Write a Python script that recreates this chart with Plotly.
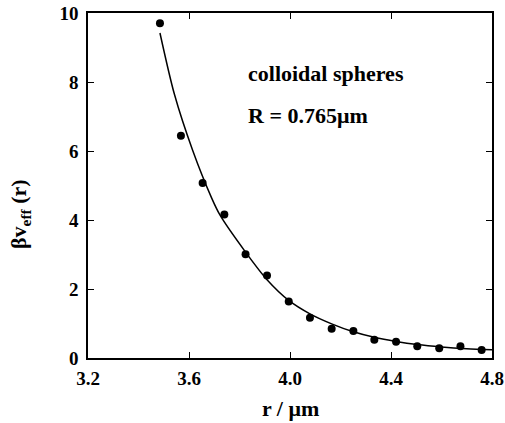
import plotly.graph_objects as go

# measured points
r_pts = [3.485, 3.568, 3.654, 3.740, 3.824, 3.909, 3.995, 4.079, 4.165, 4.251,
         4.334, 4.420, 4.504, 4.591, 4.675, 4.759]
v_pts = [9.70, 6.44, 5.07, 4.16, 3.01, 2.39, 1.64, 1.17, 0.85, 0.78,
         0.53, 0.47, 0.34, 0.28, 0.34, 0.23]

# fitted curve
r_fit = [3.485, 3.542, 3.614, 3.689, 3.723, 3.824, 3.909, 3.995, 4.079, 4.165,
         4.251, 4.334, 4.420, 4.504, 4.600, 4.700, 4.800]
v_fit = [9.42, 7.65, 6.03, 4.65, 4.14, 3.07, 2.27, 1.67, 1.28, 0.99,
         0.76, 0.60, 0.48, 0.39, 0.32, 0.27, 0.24]

x_ticks = [3.2, 3.6, 4.0, 4.4, 4.8]
x_ticklabels = ["3.2", "3.6", "4.0", "4.4", "4.8"]
y_ticks = [0, 2, 4, 6, 8, 10]

FONT = "Liberation Serif"

W, H = 505, 423
ML, MR, MT, MB = 88, 13, 13, 65
pw = W - ML - MR
ph = H - MT - MB

fig = go.Figure()
fig.add_trace(go.Scatter(x=r_fit, y=v_fit, mode="lines",
                         line=dict(color="black", width=1.5, shape="spline", smoothing=0.8),
                         hoverinfo="skip"))
fig.add_trace(go.Scatter(x=r_pts, y=v_pts, mode="markers",
                         marker=dict(color="black", size=8)))

axis_common = dict(showline=True, linecolor="black", linewidth=1.5, mirror="ticks",
                   ticks="inside", ticklen=6, tickwidth=1, tickcolor="black",
                   showgrid=False, zeroline=False, automargin=False,
                   tickfont=dict(family=FONT, size=19, color="black", weight="bold"))

fig.update_layout(
    width=W, height=H,
    margin=dict(l=ML, r=MR, t=MT, b=MB, autoexpand=False),
    paper_bgcolor="white", plot_bgcolor="white",
    showlegend=False,
    font=dict(family=FONT, color="black"),
    xaxis=dict(range=[3.2, 4.8], tickvals=x_ticks, ticktext=x_ticklabels,
               ticklabelstandoff=2, **axis_common),
    yaxis=dict(range=[0, 10], tickvals=y_ticks, ticklabelstandoff=4, **axis_common),
    annotations=[
        dict(x=3.826, y=8.26, xref="x", yref="y", xanchor="left", yanchor="middle",
             text="<b>colloidal spheres</b>", showarrow=False,
             font=dict(family=FONT, size=22, color="black")),
        dict(x=3.826, y=7.04, xref="x", yref="y", xanchor="left", yanchor="middle",
             text="<b>R = 0.765μm</b>", showarrow=False,
             font=dict(family=FONT, size=22, color="black")),
        dict(x=(290 - ML) / pw, y=(H - MB - 408) / ph, xref="paper", yref="paper",
             showarrow=False, text="<b>r / μm</b>",
             font=dict(family=FONT, size=22, color="black"),
             xanchor="center", yanchor="middle"),
        dict(x=(20 - ML) / pw, y=(H - MB - 214) / ph, xref="paper", yref="paper",
             showarrow=False, text="<b>βv<sub>eff</sub> (r)</b>", textangle=-90,
             font=dict(family=FONT, size=22, color="black"),
             xanchor="center", yanchor="middle"),
    ],
)

fig.write_html("out.html", config={"displayModeBar": False},
               post_script="document.body.style.margin='0';document.body.style.padding='0';")
